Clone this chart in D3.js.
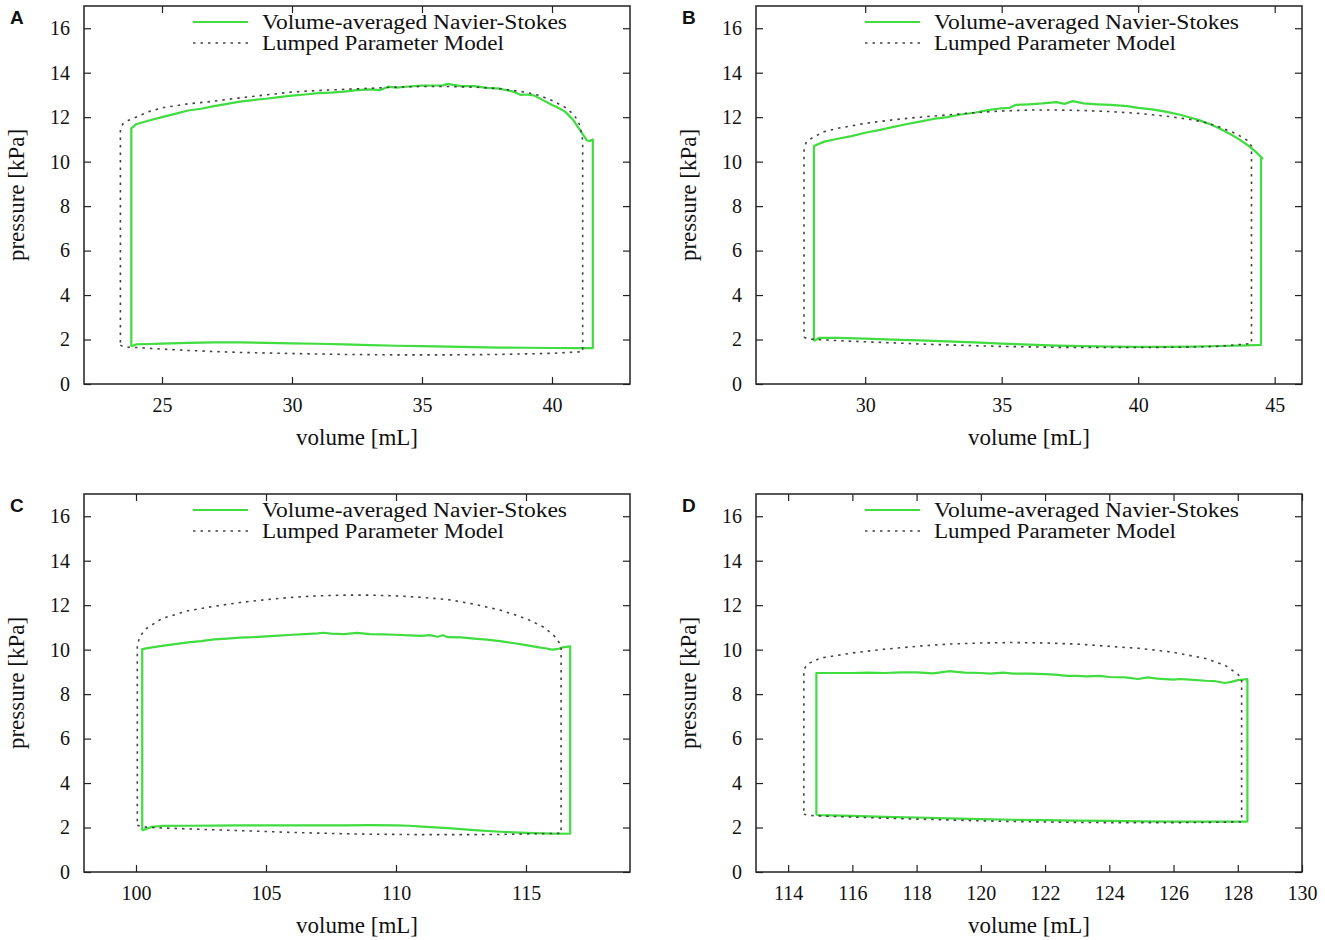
<!DOCTYPE html>
<html>
<head>
<meta charset="utf-8">
<script src="https://cdn.jsdelivr.net/npm/d3@7"></script>
<style>
  body { margin: 0; background: #fff; }
  svg { display: block; }
  text { font-family: "Liberation Serif", "Times New Roman", serif; fill: #111; }
  .panel-label { font-family: "Liberation Sans", Arial, sans-serif; font-weight: bold; font-size: 19px; }
</style>
</head>
<body>
<div id="chart"></div>
<script>
// Series names
const seriesNames = ['Volume-averaged Navier-Stokes', 'Lumped Parameter Model'];
const yTicks = [0, 2, 4, 6, 8, 10, 12, 14, 16];
const yDomain = [0, 17];

// Panel A
const xDomainA = [22, 43];
const xTicksA = [25, 30, 35, 40];
const nsA = [
  [23.82,1.69],[24.0,1.78],[24.5,1.8],[25,1.82],[26,1.85],[27,1.87],[28,1.87],[29,1.85],[30,1.83],[31,1.81],
  [32,1.78],[33,1.75],[34,1.72],[35,1.70],[36,1.68],[37,1.66],[38,1.64],[39,1.63],[40,1.62],[41,1.61],[41.57,1.61],
  [41.57,11.0],[41.45,10.93],[41.35,10.95],[41.2,11.2],[41.0,11.55],[40.8,11.9],[40.5,12.25],[40.2,12.45],[40,12.55],
  [39.6,12.8],[39.3,12.98],[39.0,13.02],[38.8,13.0],[38.5,13.15],[38,13.28],[37.5,13.32],[37,13.4],[36.5,13.4],
  [36.2,13.45],[36,13.5],[35.8,13.43],[35,13.42],[34.5,13.38],[34,13.33],[33.7,13.37],[33.4,13.22],[33,13.25],
  [32.5,13.22],[32,13.15],[31.5,13.1],[31,13.08],[30.5,13.02],[30,12.97],[29.5,12.9],[29,12.83],[28.5,12.77],
  [28,12.7],[27.5,12.6],[27,12.5],[26.5,12.38],[26,12.3],[25.5,12.15],[25,12.0],[24.5,11.85],[24,11.68],[23.82,11.5],
  [23.82,1.69]
];
const lpmA = [
  [23.4,1.75],[23.5,1.68],[23.7,1.66],[24,1.64],[25,1.57],[26,1.51],[27,1.46],[28,1.42],[30,1.37],[32,1.33],
  [34,1.31],[35,1.31],[36,1.31],[38,1.33],[40,1.38],[41.18,1.45],
  [41.18,10.95],[41.1,11.5],[41.0,11.85],[40.8,12.15],[40.5,12.45],[40.0,12.75],[39.5,12.98],[39,13.12],[38,13.28],
  [37,13.35],[36,13.38],[35,13.38],[34,13.35],[33,13.3],[32,13.25],[31,13.2],[30,13.13],[29,13.0],[28,12.87],
  [27,12.72],[26,12.6],[25,12.42],[24.5,12.25],[24,12.0],[23.7,11.85],[23.5,11.7],[23.4,11.5],
  [23.4,1.75]
];

// Panel B
const xDomainB = [26, 46];
const xTicksB = [30, 35, 40, 45];
const nsB = [
  [28.12,1.93],[28.3,2.07],[29,2.07],[30,2.04],[31,2.0],[32,1.96],[33,1.92],[34,1.87],[35,1.82],[36,1.77],
  [37,1.73],[38,1.7],[39,1.68],[40,1.67],[41,1.67],[42,1.68],[43,1.71],[44,1.74],[44.5,1.76],
  [44.5,10.2],[44.55,10.15],[44.3,10.45],[44,10.75],[43.7,11.0],[43.4,11.22],[43,11.48],[42.6,11.7],[42.2,11.88],
  [42,11.95],[41.5,12.12],[41,12.25],[40.5,12.35],[40,12.42],[39.6,12.5],[39,12.55],[38.5,12.58],[38,12.62],
  [37.6,12.72],[37.3,12.6],[37,12.68],[36.5,12.62],[36,12.58],[35.5,12.55],[35.3,12.42],[35,12.4],[34.5,12.32],
  [34,12.2],[33.5,12.12],[33,12.0],[32.5,11.92],[32,11.8],[31.5,11.68],[31,11.55],[30.5,11.42],[30,11.3],
  [29.5,11.15],[29,11.03],[28.5,10.9],[28.12,10.7],
  [28.12,1.93]
];
const lpmB = [
  [27.76,2.1],[27.9,2.03],[28.2,2.0],[29,1.95],[30,1.9],[31,1.85],[32,1.8],[33,1.76],[34,1.72],[35,1.69],
  [36,1.67],[37,1.65],[38,1.64],[39,1.64],[40,1.64],[41,1.65],[42,1.66],[43,1.7],[44.15,1.82],
  [44.15,10.7],[44.0,10.95],[43.6,11.25],[43.2,11.45],[43,11.55],[42.5,11.75],[42,11.88],[41,12.05],[40,12.17],
  [39,12.25],[38,12.3],[37,12.32],[36,12.32],[35,12.28],[34,12.2],[33,12.1],[32,12.0],[31,11.88],[30,11.72],
  [29,11.5],[28.5,11.35],[28.1,11.1],[27.85,10.9],[27.76,10.6],
  [27.76,2.1]
];

// Panel C
const xDomainC = [98, 119];
const xTicksC = [100, 105, 110, 115];
const nsC = [
  [100.24,1.87],[100.6,2.03],[101,2.07],[102,2.08],[103,2.09],[104,2.1],[105,2.1],[106,2.1],[107,2.1],[108,2.1],
  [109,2.11],[110,2.1],[110.5,2.08],[111,2.04],[112,1.97],[113,1.88],[114,1.81],[115,1.76],[116,1.73],[116.7,1.72],
  [116.7,10.15],[116.4,10.1],[116.2,10.02],[116,10.0],[115.8,10.05],[115.5,10.1],[115,10.2],[114.5,10.3],
  [114,10.38],[113.5,10.45],[113,10.5],[112.5,10.55],[112,10.56],[111.8,10.65],[111.6,10.58],[111.3,10.65],
  [111,10.62],[110.5,10.64],[110,10.67],[109.5,10.69],[109,10.7],[108.5,10.75],[108,10.7],[107.5,10.72],
  [107.2,10.76],[107,10.73],[106.5,10.7],[106,10.67],[105.5,10.63],[105,10.6],[104.5,10.56],[104,10.54],
  [103.5,10.5],[103,10.46],[102.5,10.38],[102,10.33],[101.5,10.25],[101,10.17],[100.5,10.08],[100.24,10.02],
  [100.24,1.87]
];
const lpmC = [
  [100.05,2.1],[100.2,2.04],[100.5,2.01],[101,1.98],[102,1.94],[103,1.9],[104,1.86],[105,1.82],[106,1.78],
  [107,1.75],[108,1.72],[109,1.7],[110,1.69],[111,1.68],[112,1.68],[113,1.68],[114,1.69],[115,1.71],[116.35,1.74],
  [116.35,10.2],[116.1,10.6],[115.7,11.0],[115,11.4],[114,11.78],[113,12.05],[112,12.25],[111,12.35],[110,12.42],
  [109,12.45],[108,12.45],[107,12.42],[106,12.35],[105,12.25],[104,12.12],[103,11.95],[102,11.75],[101,11.4],
  [100.4,10.95],[100.15,10.6],[100.05,10.2],
  [100.05,2.1]
];

// Panel D
const xDomainD = [113, 130];
const xTicksD = [114, 116, 118, 120, 122, 124, 126, 128, 130];
const nsD = [
  [114.88,2.57],[115,2.56],[116,2.52],[117,2.48],[118,2.45],[119,2.41],[120,2.38],[121,2.35],[122,2.33],
  [123,2.31],[124,2.3],[125,2.28],[126,2.27],[127,2.27],[128.3,2.27],
  [128.3,8.67],[128,8.63],[127.8,8.55],[127.6,8.5],[127.3,8.58],[127,8.6],[126.5,8.65],[126.2,8.68],[126,8.65],
  [125.5,8.7],[125.2,8.75],[124.9,8.68],[124.5,8.75],[124,8.77],[123.7,8.82],[123.3,8.8],[123,8.82],[122.7,8.82],
  [122.3,8.88],[122,8.9],[121.5,8.92],[121,8.92],[120.7,8.97],[120.3,8.92],[120,8.95],[119.5,8.97],[119,9.03],
  [118.7,8.97],[118.5,8.93],[118,8.98],[117.5,8.98],[117,8.95],[116.5,8.97],[116,8.95],[115.5,8.95],[114.88,8.95],
  [114.88,2.57]
];
const lpmD = [
  [114.49,2.6],[114.7,2.54],[115,2.52],[116,2.47],[117,2.42],[118,2.38],[119,2.34],[120,2.3],[121,2.27],
  [122,2.25],[123,2.23],[124,2.22],[125,2.22],[126,2.22],[127,2.23],[128.12,2.25],
  [128.12,8.7],[128,8.9],[127.6,9.3],[127,9.6],[126,9.88],[125,10.05],[124,10.15],[123,10.25],[122,10.3],
  [121,10.32],[120,10.3],[119,10.25],[118,10.15],[117,10.02],[116,9.85],[115,9.62],[114.6,9.35],[114.49,9.1],
  [114.49,2.6]
];

const panels = [
  { label: 'A', ns: nsA, lpm: lpmA, xDomain: xDomainA, xTicks: xTicksA, left: 84,  top: 6 },
  { label: 'B', ns: nsB, lpm: lpmB, xDomain: xDomainB, xTicks: xTicksB, left: 756, top: 6 },
  { label: 'C', ns: nsC, lpm: lpmC, xDomain: xDomainC, xTicks: xTicksC, left: 84,  top: 494 },
  { label: 'D', ns: nsD, lpm: lpmD, xDomain: xDomainD, xTicks: xTicksD, left: 756, top: 494 }
];

const W = 1325, H = 940;
const pw = 546, ph = 378;
const green = '#40dc40';
const dashColor = '#444';

const svg = d3.select('#chart').append('svg')
  .attr('width', W)
  .attr('height', H);

panels.forEach(p => {
  const g = svg.append('g').attr('transform', `translate(${p.left},${p.top})`);
  const x = d3.scaleLinear().domain(p.xDomain).range([0, pw]);
  const y = d3.scaleLinear().domain(yDomain).range([ph, 0]);

  // inward ticks on all four sides, like gnuplot
  const tickStyle = sel => {
    sel.select('.domain').remove();
    sel.selectAll('line').attr('stroke', '#222').attr('stroke-width', 1.2);
  };
  g.append('g').attr('transform', `translate(0,${ph})`)
    .call(d3.axisBottom(x).tickValues(p.xTicks).tickSizeInner(-7).tickSizeOuter(0).tickPadding(14))
    .call(tickStyle)
    .selectAll('text').attr('font-size', 20).attr('font-family', '"Liberation Serif", serif').attr('fill', '#111');
  g.append('g')
    .call(d3.axisTop(x).tickValues(p.xTicks).tickSizeInner(-7).tickSizeOuter(0).tickFormat(''))
    .call(tickStyle);
  g.append('g')
    .call(d3.axisLeft(y).tickValues(yTicks).tickSizeInner(-7).tickSizeOuter(0).tickPadding(14))
    .call(tickStyle)
    .selectAll('text').attr('font-size', 20).attr('font-family', '"Liberation Serif", serif').attr('fill', '#111');
  g.append('g').attr('transform', `translate(${pw},0)`)
    .call(d3.axisRight(y).tickValues(yTicks).tickSizeInner(-7).tickSizeOuter(0).tickFormat(''))
    .call(tickStyle);

  g.append('rect')
    .attr('width', pw).attr('height', ph)
    .attr('fill', 'none').attr('stroke', '#222').attr('stroke-width', 1.5);

  const line = d3.line().x(d => x(d[0])).y(d => y(d[1]));

  g.append('path').datum(p.ns)
    .attr('d', line)
    .attr('fill', 'none')
    .attr('stroke', green)
    .attr('stroke-width', 2.2)
    .attr('stroke-linejoin', 'round');

  g.append('path').datum(p.lpm)
    .attr('d', line)
    .attr('fill', 'none')
    .attr('stroke', dashColor)
    .attr('stroke-width', 1.6)
    .attr('stroke-dasharray', '2.5,5');

  // legend
  const leg = g.append('g').attr('transform', 'translate(109,16)');
  leg.append('line').attr('x1', 0).attr('x2', 55).attr('y1', 0).attr('y2', 0)
    .attr('stroke', green).attr('stroke-width', 2.2);
  leg.append('line').attr('x1', 0).attr('x2', 55).attr('y1', 21).attr('y2', 21)
    .attr('stroke', dashColor).attr('stroke-width', 1.6).attr('stroke-dasharray', '2.5,5');
  leg.selectAll('text.leg').data(seriesNames).enter().append('text')
    .attr('class', 'leg')
    .attr('x', 69)
    .attr('y', (d, i) => i * 21 + 7)
    .attr('font-size', 20)
    .attr('textLength', (d, i) => i === 0 ? 305 : 242)
    .attr('lengthAdjust', 'spacingAndGlyphs')
    .text(d => d);

  // axis titles
  g.append('text')
    .attr('x', pw / 2).attr('y', ph + 61)
    .attr('text-anchor', 'middle')
    .attr('font-size', 23)
    .text('volume [mL]');
  g.append('text')
    .attr('transform', `translate(-60,${ph / 2}) rotate(-90)`)
    .attr('text-anchor', 'middle')
    .attr('font-size', 23)
    .text('pressure [kPa]');

  g.append('text')
    .attr('class', 'panel-label')
    .attr('x', -74).attr('y', 18)
    .text(p.label);
});
</script>
</body>
</html>
